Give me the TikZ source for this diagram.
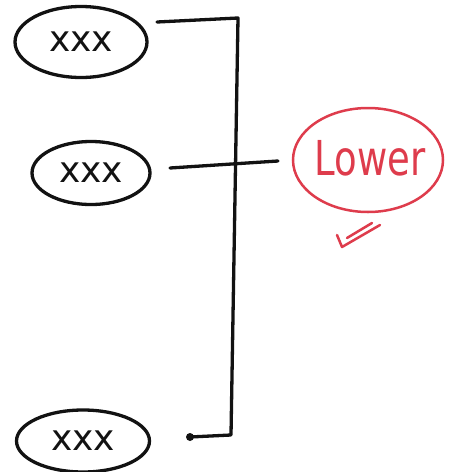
\documentclass[tikz,border=0pt]{standalone}
\usepackage{fontspec}
\newfontfamily\handfont{DejaVu Sans}
\usetikzlibrary{shapes.geometric}
\definecolor{pen}{RGB}{18,18,18}
\definecolor{redpen}{RGB}{222,60,76}
\tikzset{
  item/.style={ellipse, draw=pen, line width=3.3pt, inner sep=0pt,
    font=\handfont\fontsize{36}{36}\selectfont, text=pen},
  wire/.style={draw=pen, line width=3.3pt, line cap=round, line join=round},
  verdict/.style={ellipse, draw=redpen, line width=2.5pt, inner sep=0pt,
    minimum width=150pt, minimum height=104pt},
  redmark/.style={draw=redpen, line width=2.5pt, line cap=round, line join=round}
}
\begin{document}
\begin{tikzpicture}[x=1pt,y=-1pt]
  \useasboundingbox (0,0) rectangle (457,472);

  % the three items
  \node[item, minimum width=132pt, minimum height=71pt] (top) at (81,42) {xxx};
  \node[item, minimum width=118pt, minimum height=63pt] (mid) at (91,173) {xxx};
  \node[item, minimum width=133pt, minimum height=62pt] (bot) at (83,441) {xxx};

  % bracket joining them
  \coordinate (tl) at (157,22);
  \coordinate (tr) at (238,18);
  \coordinate (br) at (231,435);
  \coordinate (bd) at (190,437);
  \draw[wire] (tl) -- (tr) -- (br) -- (bd);
  \fill[pen] (bd) circle (4);

  % middle branch out to the result
  \coordinate (ml) at (170,168);
  \coordinate (mr) at (278,161);
  \draw[wire] (ml) -- (mr);

  % result
  \node[verdict] (lower) at (368,160) {};
  \node[text=redpen, font=\handfont\fontsize{37}{37}\selectfont] at (370,158)
    {\scalebox{1}[1.3]{Lower}};

  % tick under the result
  \draw[redmark] (337,235) -- (342,247) -- (380,225);
  \draw[redmark] (347,238) -- (372,223);
\end{tikzpicture}
\end{document}
